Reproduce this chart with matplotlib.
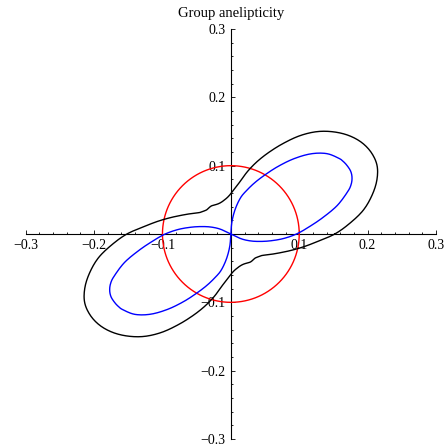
import numpy as np
import matplotlib
matplotlib.use("Agg")
import matplotlib.pyplot as plt
from matplotlib.ticker import FixedLocator, MultipleLocator

# Polar curves (angle in degrees, radius); each curve is symmetric under a 180° turn
blue_theta_deg = [-28, -25, -20, -15, -10, -5, 0, 5, 10, 15, 20, 22.5, 25, 27.5,
                  30, 32.5, 35, 40, 45, 50, 55, 60, 65, 70, 75, 80, 85, 90]
blue_r = [0.0, 0.016, 0.029, 0.042, 0.058, 0.077, 0.096, 0.114, 0.136, 0.161,
          0.182, 0.1905, 0.1955, 0.1978, 0.1975, 0.196, 0.193, 0.183, 0.166,
          0.144, 0.121, 0.100, 0.083, 0.068, 0.055, 0.037, 0.018, 0.0]

black_theta_deg = [0, 5, 10, 15, 20, 25, 30, 35, 40, 45, 50, 55, 60, 65, 70, 75,
                   80, 85, 90, 95, 100, 105, 110, 115, 120, 125, 130, 135, 140,
                   145, 150, 155, 160, 165, 170, 175]
black_r = [0.152, 0.174, 0.196, 0.213, 0.227, 0.236, 0.2375, 0.2335, 0.2245,
           0.2115, 0.1955, 0.1755, 0.153, 0.132, 0.113, 0.095, 0.078, 0.067,
           0.059, 0.054, 0.051, 0.049, 0.048, 0.048, 0.049, 0.050, 0.050, 0.050,
           0.052, 0.055, 0.061, 0.069, 0.079, 0.092, 0.108, 0.127]

circle_r = 0.1

tick_values = [-0.3, -0.2, -0.1, 0.0, 0.1, 0.2, 0.3]
tick_labels = ["\u22120.3", "\u22120.2", "\u22120.1", "", "0.1", "0.2", "0.3"]
title = "Group anelipticity"

serif = ["Liberation Serif", "DejaVu Serif"]

W, H = 444, 448
fig = plt.figure(figsize=(W / 100, H / 100), dpi=100)
ax = fig.add_axes([25.7 / W, 1 - 439 / H, 410.3 / W, 410 / H])
ax.set_xlim(-0.3, 0.3)
ax.set_ylim(-0.3, 0.3)
ax.patch.set_visible(False)


def to_xy(theta_deg, r):
    t = np.radians(np.asarray(theta_deg, dtype=float))
    r = np.asarray(r, dtype=float)
    return r * np.cos(t), r * np.sin(t)


def smooth_path(x, y, closed=False, n=12):
    """Catmull-Rom curve through every given vertex, for a rounded stroke."""
    p = np.column_stack([x, y])
    if closed:
        p = p[:-1] if np.allclose(p[0], p[-1]) else p
        ext = np.vstack([p[-1], p, p[0], p[1]])
    else:
        ext = np.vstack([p[0], p, p[-1]])
    s = np.linspace(0, 1, n, endpoint=False)[:, None]
    out = []
    for i in range(1, len(ext) - 2):
        p0, p1, p2, p3 = ext[i - 1], ext[i], ext[i + 1], ext[i + 2]
        seg = 0.5 * ((2 * p1) + (-p0 + p2) * s
                     + (2 * p0 - 5 * p1 + 4 * p2 - p3) * s ** 2
                     + (-p0 + 3 * p1 - 3 * p2 + p3) * s ** 3)
        out.append(seg)
    out.append(ext[-2][None, :])
    out = np.vstack(out)
    return out[:, 0], out[:, 1]


# red reference circle
t_c = np.linspace(0, 2 * np.pi, 361)
ax.plot(circle_r * np.cos(t_c), circle_r * np.sin(t_c), color="#ff0000", lw=1.0, zorder=3)

# blue two-lobed curve
for shift in (0, 180):
    bx, by = to_xy(np.asarray(blue_theta_deg) + shift, blue_r)
    sx, sy = smooth_path(bx, by)
    ax.plot(sx, sy, color="#0000ff", lw=1.0, zorder=3)

# black closed curve
th = np.concatenate([black_theta_deg, np.asarray(black_theta_deg) + 180])
rr = np.concatenate([black_r, black_r])
kx, ky = to_xy(th, rr)
sx, sy = smooth_path(kx, ky, closed=True)
ax.plot(sx, sy, color="black", lw=1.0, zorder=3)

# axes through the origin
for side in ("top", "right"):
    ax.spines[side].set_visible(False)
ax.spines["left"].set_position(("data", 0))
ax.spines["bottom"].set_position(("data", 0))
for side in ("left", "bottom"):
    ax.spines[side].set_linewidth(0.8)

for axis in (ax.xaxis, ax.yaxis):
    axis.set_major_locator(FixedLocator(tick_values))
    axis.set_minor_locator(MultipleLocator(0.02))

ax.set_xticklabels(tick_labels, fontfamily=serif, fontsize=10)
ax.set_yticklabels(tick_labels, fontfamily=serif, fontsize=10)
ax.tick_params(which="major", direction="in", length=3.0, width=0.6)
ax.tick_params(which="minor", direction="in", length=1.5, width=0.6)
ax.tick_params(axis="x", which="major", pad=3.5)
ax.tick_params(axis="y", which="major", pad=4)

fig.text(231 / W, 1 - 14 / H, title, ha="center", va="center",
         fontfamily=serif, fontsize=10.5)

fig.savefig("out.png", dpi=100)
